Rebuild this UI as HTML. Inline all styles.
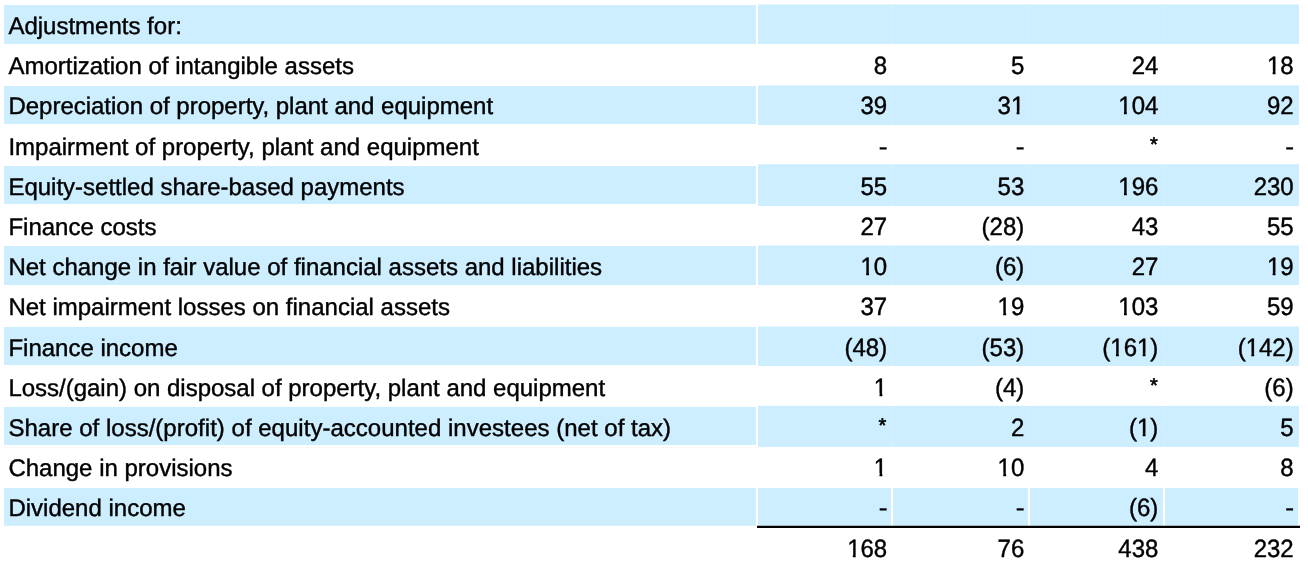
<!DOCTYPE html>
<html><head><meta charset="utf-8"><title>Adjustments</title>
<style>
html,body{margin:0;padding:0;background:#fff;}
body{width:1308px;height:568px;position:relative;overflow:hidden;}
svg{position:absolute;left:0;top:0;display:block;}
text{font-family:"Liberation Sans",sans-serif;font-size:24.0px;fill:#000;stroke:#000;stroke-width:0.4;text-rendering:geometricPrecision;white-space:pre;}
.n{text-anchor:end;}
.a{font-size:20px;stroke-width:0.6;}
.b{fill:#cceeff;}.w{fill:#fff;}
</style></head>
<body>
<svg width="1308" height="568" viewBox="0 0 1308 568">
<rect class="b" x="4" y="5.00" width="752" height="39.00"/>
<rect class="b" x="758" y="4.50" width="541" height="39.50"/>
<rect class="b" x="4" y="86.00" width="752" height="38.00"/>
<rect class="b" x="758" y="85.50" width="541" height="39.50"/>
<rect class="b" x="4" y="166.00" width="752" height="38.00"/>
<rect class="b" x="758" y="164.30" width="541" height="41.70"/>
<rect class="b" x="4" y="246.00" width="752" height="39.00"/>
<rect class="b" x="758" y="245.50" width="541" height="39.50"/>
<rect class="b" x="4" y="327.00" width="752" height="38.00"/>
<rect class="b" x="758" y="326.50" width="541" height="39.50"/>
<rect class="b" x="4" y="407.00" width="752" height="38.00"/>
<rect class="b" x="758" y="406.00" width="541" height="41.00"/>
<rect class="b" x="4" y="488.00" width="752" height="37.75"/>
<rect class="b" x="758" y="488.00" width="133" height="37.75"/>
<rect class="b" x="893" y="488.00" width="135" height="37.75"/>
<rect class="b" x="1030" y="488.00" width="133" height="37.75"/>
<rect class="b" x="1165" y="488.00" width="133" height="37.75"/>
<rect x="1028" y="5.50" width="2" height="37.50" fill="#d0efff"/>
<rect x="1163" y="5.50" width="2" height="37.50" fill="#d0efff"/>
<line x1="892.5" y1="5" x2="892.5" y2="44" stroke="#e4f5ff" stroke-width="1" stroke-dasharray="1 1"/>
<rect x="1028" y="86.50" width="2" height="37.50" fill="#d0efff"/>
<rect x="1163" y="86.50" width="2" height="37.50" fill="#d0efff"/>
<line x1="892.5" y1="87" x2="892.5" y2="125" stroke="#e4f5ff" stroke-width="1" stroke-dasharray="1 1"/>
<rect x="1028" y="165.30" width="2" height="39.70" fill="#d0efff"/>
<rect x="1163" y="165.30" width="2" height="39.70" fill="#d0efff"/>
<line x1="892.5" y1="165" x2="892.5" y2="206" stroke="#e4f5ff" stroke-width="1" stroke-dasharray="1 1"/>
<rect x="1028" y="246.50" width="2" height="37.50" fill="#d0efff"/>
<rect x="1163" y="246.50" width="2" height="37.50" fill="#d0efff"/>
<line x1="892.5" y1="247" x2="892.5" y2="285" stroke="#e4f5ff" stroke-width="1" stroke-dasharray="1 1"/>
<rect x="1028" y="327.50" width="2" height="37.50" fill="#d0efff"/>
<rect x="1163" y="327.50" width="2" height="37.50" fill="#d0efff"/>
<line x1="892.5" y1="327" x2="892.5" y2="366" stroke="#e4f5ff" stroke-width="1" stroke-dasharray="1 1"/>
<rect x="1028" y="407.00" width="2" height="39.00" fill="#d0efff"/>
<rect x="1163" y="407.00" width="2" height="39.00" fill="#d0efff"/>
<line x1="892.5" y1="407" x2="892.5" y2="447" stroke="#e4f5ff" stroke-width="1" stroke-dasharray="1 1"/>
<line x1="760" y1="4.5" x2="1299" y2="4.5" stroke="#cceeff" stroke-opacity="0.5" stroke-width="1" stroke-dasharray="1 3"/>
<line x1="760" y1="85.5" x2="1299" y2="85.5" stroke="#cceeff" stroke-opacity="0.5" stroke-width="1" stroke-dasharray="1 3"/>
<line x1="761" y1="405.5" x2="1299" y2="405.5" stroke="#cceeff" stroke-opacity="0.5" stroke-width="1" stroke-dasharray="1 3"/>
<line x1="5" y1="447.5" x2="758" y2="447.5" stroke="#f1f1f1" stroke-width="1" stroke-dasharray="1 1"/>
<rect x="757" y="525.75" width="543" height="2.25" fill="#000"/>
<text x="8.4" y="33.70">Adjustments for:</text>
<text x="8.4" y="73.87">Amortization of intangible assets</text>
<text class="n" transform="translate(887.2,73.87) scale(1,1.04)">8</text>
<text class="n" transform="translate(1024.3,73.87) scale(1,1.04)">5</text>
<text class="n" transform="translate(1158.35,73.87) scale(1,1.04)">24</text>
<text class="n" transform="translate(1293.7,73.87) scale(1,1.04)">18</text>
<text x="8.4" y="113.59" textLength="484.7" lengthAdjust="spacing">Depreciation of property, plant and equipment</text>
<text class="n" transform="translate(887.2,113.59) scale(1,1.04)">39</text>
<text class="n" transform="translate(1024.3,113.59) scale(1,1.04)">31</text>
<text class="n" transform="translate(1158.35,113.59) scale(1,1.04)">104</text>
<text class="n" transform="translate(1293.7,113.59) scale(1,1.04)">92</text>
<text x="8.4" y="155.01">Impairment of property, plant and equipment</text>
<text class="n" transform="translate(887.45,155.01) scale(1.1,1.04)">-</text>
<text class="n" transform="translate(1024.55,155.01) scale(1.1,1.04)">-</text>
<text class="n a" x="1157.85" y="151.26">*</text>
<text class="n" transform="translate(1293.95,155.01) scale(1.1,1.04)">-</text>
<text x="8.4" y="194.98">Equity-settled share-based payments</text>
<text class="n" transform="translate(887.2,194.98) scale(1,1.04)">55</text>
<text class="n" transform="translate(1024.3,194.98) scale(1,1.04)">53</text>
<text class="n" transform="translate(1158.35,194.98) scale(1,1.04)">196</text>
<text class="n" transform="translate(1293.7,194.98) scale(1,1.04)">230</text>
<text x="8.4" y="235.05">Finance costs</text>
<text class="n" transform="translate(887.2,235.05) scale(1,1.04)">27</text>
<text class="n" transform="translate(1024.3,235.05) scale(1,1.04)">(28)</text>
<text class="n" transform="translate(1158.35,235.05) scale(1,1.04)">43</text>
<text class="n" transform="translate(1293.7,235.05) scale(1,1.04)">55</text>
<text x="8.4" y="274.92">Net change in fair value of financial assets and liabilities</text>
<text class="n" transform="translate(887.2,274.92) scale(1,1.04)">10</text>
<text class="n" transform="translate(1024.3,274.92) scale(1,1.04)">(6)</text>
<text class="n" transform="translate(1158.35,274.92) scale(1,1.04)">27</text>
<text class="n" transform="translate(1293.7,274.92) scale(1,1.04)">19</text>
<text x="8.4" y="315.09">Net impairment losses on financial assets</text>
<text class="n" transform="translate(887.2,315.09) scale(1,1.04)">37</text>
<text class="n" transform="translate(1024.3,315.09) scale(1,1.04)">19</text>
<text class="n" transform="translate(1158.35,315.09) scale(1,1.04)">103</text>
<text class="n" transform="translate(1293.7,315.09) scale(1,1.04)">59</text>
<text x="8.4" y="355.66">Finance income</text>
<text class="n" transform="translate(887.2,355.66) scale(1,1.04)">(48)</text>
<text class="n" transform="translate(1024.3,355.66) scale(1,1.04)">(53)</text>
<text class="n" transform="translate(1158.35,355.66) scale(1,1.04)">(161)</text>
<text class="n" transform="translate(1293.7,355.66) scale(1,1.04)">(142)</text>
<text x="8.4" y="395.73" textLength="596.7" lengthAdjust="spacing">Loss/(gain) on disposal of property, plant and equipment</text>
<text class="n" transform="translate(887.2,395.73) scale(1,1.04)">1</text>
<text class="n" transform="translate(1024.3,395.73) scale(1,1.04)">(4)</text>
<text class="n a" x="1157.85" y="391.98">*</text>
<text class="n" transform="translate(1293.7,395.73) scale(1,1.04)">(6)</text>
<text x="8.4" y="435.85" textLength="662.7" lengthAdjust="spacing">Share of loss/(profit) of equity-accounted investees (net of tax)</text>
<text class="n a" x="886.20" y="432.10">*</text>
<text class="n" transform="translate(1024.3,435.85) scale(1,1.04)">2</text>
<text class="n" transform="translate(1158.35,435.85) scale(1,1.04)">(1)</text>
<text class="n" transform="translate(1293.7,435.85) scale(1,1.04)">5</text>
<text x="8.4" y="475.52">Change in provisions</text>
<text class="n" transform="translate(887.2,475.52) scale(1,1.04)">1</text>
<text class="n" transform="translate(1024.3,475.52) scale(1,1.04)">10</text>
<text class="n" transform="translate(1158.35,475.52) scale(1,1.04)">4</text>
<text class="n" transform="translate(1293.7,475.52) scale(1,1.04)">8</text>
<text x="8.4" y="515.84">Dividend income</text>
<text class="n" transform="translate(887.45,515.84) scale(1.1,1.04)">-</text>
<text class="n" transform="translate(1024.55,515.84) scale(1.1,1.04)">-</text>
<text class="n" transform="translate(1158.35,515.84) scale(1,1.04)">(6)</text>
<text class="n" transform="translate(1293.95,515.84) scale(1.1,1.04)">-</text>
<text class="n" transform="translate(887.2,557.31) scale(1,1.04)">168</text>
<text class="n" transform="translate(1024.3,557.31) scale(1,1.04)">76</text>
<text class="n" transform="translate(1158.35,557.31) scale(1,1.04)">438</text>
<text class="n" transform="translate(1293.7,557.31) scale(1,1.04)">232</text>
<rect class="w" x="1267.53" y="71.41" width="5.11" height="3.86"/>
<rect class="w" x="1275.56" y="71.41" width="4.92" height="3.86"/>
<rect class="b" x="1011.48" y="111.13" width="5.11" height="3.86"/>
<rect class="b" x="1019.51" y="111.13" width="4.92" height="3.86"/>
<rect class="b" x="1118.84" y="111.13" width="5.11" height="3.86"/>
<rect class="b" x="1126.86" y="111.13" width="4.92" height="3.86"/>
<rect class="b" x="1118.84" y="192.52" width="5.11" height="3.86"/>
<rect class="b" x="1126.86" y="192.52" width="4.92" height="3.86"/>
<rect class="b" x="861.03" y="272.46" width="5.11" height="3.86"/>
<rect class="b" x="869.06" y="272.46" width="4.92" height="3.86"/>
<rect class="b" x="1267.53" y="272.46" width="5.11" height="3.86"/>
<rect class="b" x="1275.56" y="272.46" width="4.92" height="3.86"/>
<rect class="w" x="998.13" y="312.63" width="5.11" height="3.86"/>
<rect class="w" x="1006.16" y="312.63" width="4.92" height="3.86"/>
<rect class="w" x="1118.84" y="312.63" width="5.11" height="3.86"/>
<rect class="w" x="1126.86" y="312.63" width="4.92" height="3.86"/>
<rect class="b" x="1137.54" y="353.20" width="5.11" height="3.86"/>
<rect class="b" x="1145.57" y="353.20" width="4.92" height="3.86"/>
<rect class="b" x="1110.84" y="353.20" width="5.11" height="3.86"/>
<rect class="b" x="1118.87" y="353.20" width="4.92" height="3.86"/>
<rect class="b" x="1246.19" y="353.20" width="5.11" height="3.86"/>
<rect class="b" x="1254.22" y="353.20" width="4.92" height="3.86"/>
<rect class="w" x="874.38" y="393.27" width="5.11" height="3.86"/>
<rect class="w" x="882.41" y="393.27" width="4.92" height="3.86"/>
<rect class="b" x="1137.54" y="433.39" width="5.11" height="3.86"/>
<rect class="b" x="1145.57" y="433.39" width="4.92" height="3.86"/>
<rect class="w" x="874.38" y="473.06" width="5.11" height="3.86"/>
<rect class="w" x="882.41" y="473.06" width="4.92" height="3.86"/>
<rect class="w" x="998.13" y="473.06" width="5.11" height="3.86"/>
<rect class="w" x="1006.16" y="473.06" width="4.92" height="3.86"/>
<rect class="w" x="847.69" y="554.85" width="5.11" height="3.86"/>
<rect class="w" x="855.71" y="554.85" width="4.92" height="3.86"/>
</svg>
</body></html>
